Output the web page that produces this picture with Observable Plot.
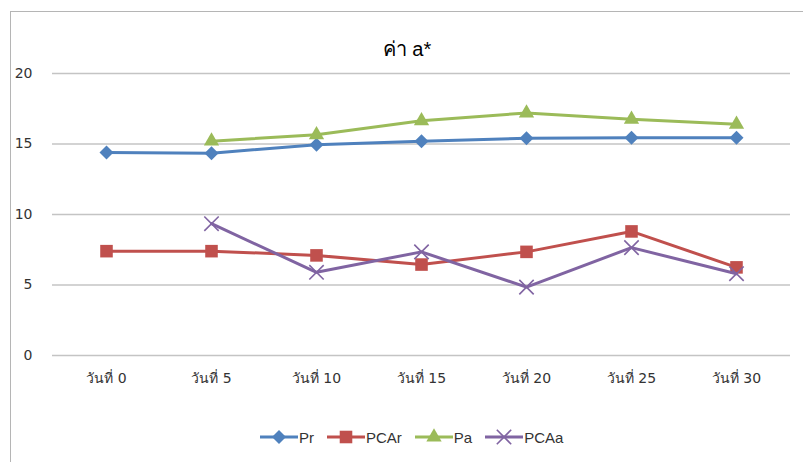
<!DOCTYPE html>
<html><head><meta charset="utf-8">
<script src="https://cdn.jsdelivr.net/npm/d3@7"></script>
<script src="https://cdn.jsdelivr.net/npm/@observablehq/plot@0.6"></script>
<style>
body{margin:0;background:#fff;}
#wrap{position:relative;width:803px;height:462px;overflow:hidden;font-family:"DejaVu Sans",sans-serif;background:#fff;}
#frame{position:absolute;left:10px;top:11px;width:800px;height:460px;border-top:1.5px solid #b5b5b5;border-left:1.5px solid #b5b5b5;}
#title{position:absolute;top:33px;left:11px;width:792px;text-align:center;font-size:20px;color:#000;font-family:"Liberation Sans Narrow","Liberation Sans",sans-serif;}
#chart{position:absolute;left:0;top:0;}
#legend{position:absolute;top:427px;left:259px;display:flex;align-items:center;font-family:"Liberation Sans",sans-serif;font-size:15px;color:#333;}
#legend .item{display:flex;align-items:center;margin-right:12px;}
#legend svg{display:block;}
</style>
</head><body>
<div id="wrap">
  <div id="frame"></div>
  <div id="chart"></div>
  <div id="title">ค่า a*</div>
  <div id="legend"></div>
</div>
<script>
const days = ["วันที่ 0","วันที่ 5","วันที่ 10","วันที่ 15","วันที่ 20","วันที่ 25","วันที่ 30"];
const pr   = [14.4, 14.35, 14.95, 15.2, 15.4, 15.45, 15.45];
const pcar = [7.4, 7.4, 7.1, 6.45, 7.35, 8.8, 6.25];
const pa   = [null, 15.2, 15.65, 16.65, 17.2, 16.75, 16.4];
const pcaa = [null, 9.35, 5.9, 7.35, 4.85, 7.65, 5.8];
const seriesNames = ["Pr","PCAr","Pa","PCAa"];
const seriesValues = [pr, pcar, pa, pcaa];
const seriesColors = ["#4F81BD","#C0504D","#9BBB59","#8064A2"];
const seriesSymbols = ["diamond2","square2","triangle2","times"];
const seriesR = [6.3, 8.0, 7.3, 6.6];
const yTicks = [0,5,10,15,20];

const series = seriesNames.map((name,i)=>({
  name, color: seriesColors[i], symbol: seriesSymbols[i], r: seriesR[i],
  data: days.map((d,j)=>({day:d, value: seriesValues[i][j]})).filter(p=>p.value!=null)
}));

const marks = [Plot.ruleY(yTicks,{stroke:"#c4c4c4", strokeWidth:1.5})];
for (const s of series) {
  marks.push(Plot.line(s.data,{x:"day",y:"value",stroke:s.color,strokeWidth:3}));
  if (s.symbol === "times") {
    marks.push(Plot.dot(s.data,{x:"day",y:"value",symbol:s.symbol,r:s.r,stroke:s.color,strokeWidth:1.6,fill:"none"}));
  } else {
    marks.push(Plot.dot(s.data,{x:"day",y:"value",symbol:s.symbol,r:s.r,fill:s.color,stroke:"none"}));
  }
}

const chart = Plot.plot({
  width:803, height:400,
  marginLeft:52, marginRight:13, marginTop:73, marginBottom:45,
  style:{fontFamily:"DejaVu Sans, sans-serif", fontSize:"14px", color:"#333", background:"transparent"},
  x:{type:"point", domain:days, label:null, tickSize:0, tickPadding:18},
  y:{domain:[0,20], ticks:yTicks, label:null, tickSize:0, tickPadding:20},
  marks
});
document.getElementById("chart").appendChild(chart);

// legend
const symMap = {diamond2:d3.symbolDiamond2, square2:d3.symbolSquare2, triangle2:d3.symbolTriangle2, times:d3.symbolTimes};
const legend = d3.select("#legend");
for (const s of series) {
  const item = legend.append("div").attr("class","item");
  const svg = item.append("svg").attr("width",40).attr("height",20);
  svg.append("line").attr("x1",1).attr("x2",39).attr("y1",10).attr("y2",10).attr("stroke",s.color).attr("stroke-width",3);
  const p = svg.append("path").attr("transform","translate(20,10)")
    .attr("d", d3.symbol(symMap[s.symbol], Math.PI*s.r*s.r)());
  if (s.symbol==="times") p.attr("stroke",s.color).attr("fill","none").attr("stroke-width",1.6);
  else p.attr("fill",s.color);
  item.append("span").text(s.name);
}
</script>
</body></html>
